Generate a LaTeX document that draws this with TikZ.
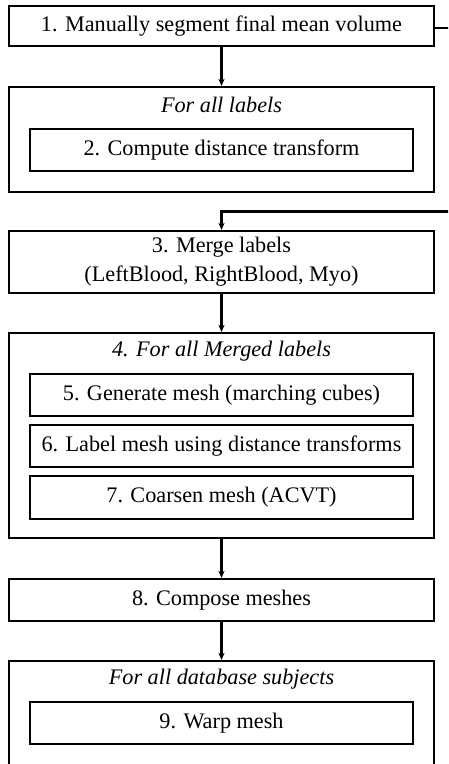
\documentclass[tikz,border=0pt]{standalone}
\usepackage{fontspec}
\setmainfont{Liberation Serif}
\usetikzlibrary{arrows.meta}

\begin{document}
\begin{tikzpicture}[x=0.45pt,y=-0.45pt,>={Stealth[length=3.2pt,width=2.8pt]},
  stepbox/.style={draw,line width=1pt,minimum height=18.5pt,align=center,inner sep=0pt},
  loopbox/.style={draw,line width=1pt,inner sep=0pt},
  title/.style={font=\itshape}]
% The frame
\useasboundingbox (0,0) rectangle (448,764);
\clip (0,0) rectangle (448,764);
% The plain steps
\node[stepbox,minimum width=191.25pt,minimum height=18pt] (s1) at (221.5,26) {1. Manually segment final mean volume};
\node[stepbox,minimum width=191.25pt,minimum height=27.9pt] (s3) at (221.5,262) {3. Merge labels\\[1pt](LeftBlood, RightBlood, Myo)};
\node[stepbox,minimum width=191.25pt,minimum height=18.9pt] (s8) at (221.5,600) {8. Compose meshes};
% For all labels
\node[loopbox,minimum width=191.25pt,minimum height=47.25pt] (l2) at (221.5,139.5) {};
\node[title] (t2) at (221.5,105) {For all labels};
\node[stepbox,minimum width=172.35pt,minimum height=18.9pt] (s2) at (221.5,150) {2. Compute distance transform};
% For all merged labels
\node[loopbox,minimum width=191.25pt,minimum height=92.25pt] (l4) at (221.5,435.5) {};
\node[title] (t4) at (221.5,351) {4. For all Merged labels};
\node[stepbox,minimum width=172.35pt,minimum height=18.9pt] (s5) at (221.5,395) {5. Generate mesh (marching cubes)};
\node[stepbox,minimum width=172.35pt,minimum height=18.9pt] (s6) at (221.5,446) {6. Label mesh using distance transforms};
\node[stepbox,minimum width=172.35pt,minimum height=19.35pt] (s7) at (221.5,497.5) {7. Coarsen mesh (ACVT)};
% For all database subjects
\node[loopbox,minimum width=191.25pt,minimum height=63pt] (l9) at (221.5,731) {};
\node[title] (t9) at (221.5,679) {For all database subjects};
\node[stepbox,minimum width=172.35pt,minimum height=18.9pt] (s9) at (221.5,723) {9. Warp mesh};
% Lines leaving the page on the right
\coordinate (r1) at (470,28);
\coordinate (r3) at (470,211.5);
% The arrows
\draw[line width=1pt] (s1.east |- r1) -- (r1);
\draw[->,line width=1pt] (s1) -- (l2);
\draw[->,line width=1pt] (r3) -| (s3.north);
\draw[->,line width=1pt] (s3) -- (l4);
\draw[->,line width=1pt] (l4) -- (s8);
\draw[->,line width=1pt] (s8) -- (l9);
\end{tikzpicture}
\end{document}
